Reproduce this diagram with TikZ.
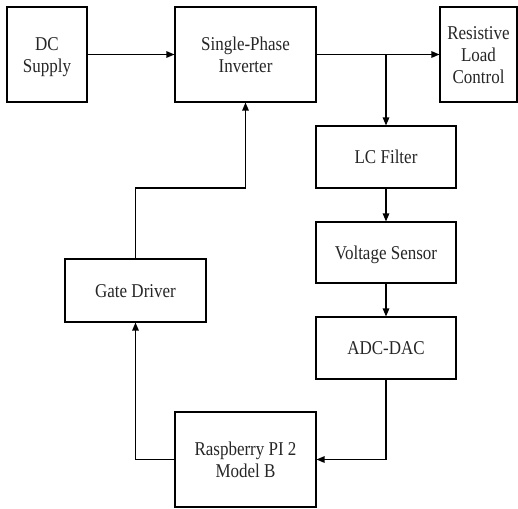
\documentclass[tikz,border=0pt]{standalone}
\usepackage{fontspec}
\usepackage{graphicx}
\setmainfont{Liberation Serif}
\usetikzlibrary{arrows.meta,calc}
\newcommand{\vtxt}[1]{\raisebox{-2.5pt}[\height][\depth]{\scalebox{1}[1.15]{\begin{tabular}{@{}c@{}}#1\end{tabular}}}}
\begin{document}
\begin{tikzpicture}[x=1pt,y=-1pt,
  blk/.style={draw,line width=1.1pt,rectangle,align=center,inner sep=0pt,
    font=\fontsize{17}{19.5}\selectfont,text=black!85},
  conn/.style={line width=1.2pt,-{Triangle[length=8pt,width=6.5pt]}}]
\useasboundingbox (0,0) rectangle (518,508);
\node[blk,minimum width=80pt,minimum height=95pt] (dc) at (47,54.5) {\vtxt{DC\\Supply}};
\node[blk,minimum width=141pt,minimum height=95pt] (inv) at (245.5,54.5) {\vtxt{Single-Phase\\Inverter}};
\node[blk,minimum width=77pt,minimum height=95pt] (res) at (478.5,54.5) {\vtxt{Resistive\\Load\\Control}};
\node[blk,minimum width=140pt,minimum height=62pt] (lc) at (386,157) {\vtxt{LC Filter}};
\node[blk,minimum width=140pt,minimum height=61pt] (vs) at (386,252.5) {\vtxt{Voltage Sensor}};
\node[blk,minimum width=140pt,minimum height=62pt] (adc) at (386,348) {\vtxt{ADC-DAC}};
\node[blk,minimum width=141pt,minimum height=63pt] (gd) at (135.5,290.5) {\vtxt{Gate Driver}};
\node[blk,minimum width=141pt,minimum height=95pt] (rpi) at (245.5,459.5) {\vtxt{Raspberry PI 2\\Model B}};
\coordinate (br) at (386,54.5);
\coordinate (c1) at (386,459.5);
\coordinate (c2) at (135.5,459.5);
\coordinate (c3) at (135.5,188);
\coordinate (c4) at (245.5,188);
\draw[conn] (dc.east) -- (inv.west);
\draw[conn] (inv.east) -- (res.west);
\draw[conn] (br) -- (lc.north);
\draw[conn] (lc.south) -- (vs.north);
\draw[conn] (vs.south) -- (adc.north);
\draw[conn] (adc.south) -- (c1) -- (rpi.east);
\draw[conn] (rpi.west) -- (c2) -- (gd.south);
\draw[conn] (gd.north) -- (c3) -- (c4) -- (inv.south);
\end{tikzpicture}
\end{document}
